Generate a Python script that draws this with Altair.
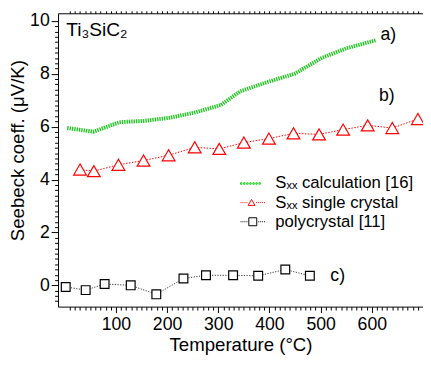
import altair as alt
import pandas as pd

# ---- data ----
calc_T = [5, 56, 107, 155, 206, 257, 305, 343, 398, 449, 503, 551, 608]
calc_S = [5.95, 5.81, 6.17, 6.22, 6.34, 6.55, 6.82, 7.34, 7.70, 8.00, 8.61, 8.97, 9.27]

single_T = [30, 57, 105, 154, 203, 254, 302, 350, 399, 447, 497, 544, 592, 640, 690]
single_S = [4.38, 4.32, 4.56, 4.72, 4.92, 5.22, 5.16, 5.40, 5.55, 5.75, 5.71, 5.89, 6.05, 5.95, 6.29]

poly_T = [2, 41, 78, 129, 179, 232, 276, 329, 378, 431, 479]
poly_S = [-0.06, -0.18, 0.05, 0.0, -0.34, 0.26, 0.38, 0.38, 0.36, 0.60, 0.36]

legend_labels = ["Sₓₓ  calculation [16]", "Sₓₓ single crystal", "polycrystal [11]"]
legend_colors = ["#22cc22", "#ff0000", "#000000"]

ann_text = ["a)", "b)", "c)"]
ann_T = [617, 614, 519]
ann_S = [9.47, 7.14, 0.35]

x_ticks = list(range(10, 700, 10))
y_ticks = [round(-0.6 + 0.2 * i, 1) for i in range(54)]

FONT = "Liberation Sans, DejaVu Sans, sans-serif"

calc_df = pd.DataFrame({"T": calc_T, "S": calc_S})
single_df = pd.DataFrame({"T": single_T, "S": single_S})
poly_df = pd.DataFrame({"T": poly_T, "S": poly_S})
ann_df = pd.DataFrame({"T": ann_T, "S": ann_S, "txt": ann_text})
title_df = pd.DataFrame({"T": [3], "S": [9.42], "txt": ["Ti₃SiC₂"]})
leg_df = pd.DataFrame({"series": legend_labels})

xscale = alt.Scale(domain=[-13, 700], nice=False, zero=False)
yscale = alt.Scale(domain=[-0.805, 10.29], nice=False, zero=False)

major_y = "abs(datum.value/2 - round(datum.value/2)) < 0.001"
y_axis = alt.Axis(
    values=y_ticks,
    labelExpr=f"{major_y} ? format(round(datum.value), 'd') : ''",
    tickSize={"condition": {"test": major_y, "value": 7}, "value": 3.5},
    title="Seebeck coeff. (μV/K)",
    titlePadding=2,
    titleY=139.5,
    grid=False,
    labelOverlap=False,
    labelFlush=False,
    labelPadding=2,
)
x_axis_bottom = alt.Axis(
    values=x_ticks,
    labelExpr="datum.value % 100 === 0 && datum.value < 700 ? datum.label : ''",
    tickSize={"condition": {"test": "datum.value % 100 === 0", "value": 6}, "value": 3.5},
    title="Temperature (°C)",
    grid=False,
    labelOverlap=False,
    labelFlush=False,
    labelPadding=3,
    titlePadding=2.5,
)
x_axis_top = alt.Axis(
    values=x_ticks,
    orient="top",
    labels=False,
    title=None,
    tickSize=2.5,
    grid=False,
)


def X(axis=None):
    return alt.X("T:Q", scale=xscale, axis=axis)


Y = alt.Y("S:Q", scale=yscale, axis=y_axis)

green = alt.Chart(calc_df).mark_line(
    color="#1ec81e", strokeWidth=4, strokeDash=[1.4, 1.0]
).encode(x=X(x_axis_bottom), y=Y)

red_line = alt.Chart(single_df).mark_line(
    color="#ff0000", strokeWidth=1, strokeDash=[1.5, 1.5]
).encode(x=X(), y=Y)
red_pts = alt.Chart(single_df).mark_point(
    shape="triangle-up", size=170, filled=True, fill="white", stroke="#ff0000",
    strokeWidth=1.2, opacity=1,
).encode(x=X(), y=Y)

blk_line = alt.Chart(poly_df).mark_line(
    color="#333333", strokeWidth=1, strokeDash=[1.2, 1.5]
).encode(x=X(x_axis_top), y=Y)
blk_pts = alt.Chart(poly_df).mark_point(
    shape="square", size=80, filled=True, fill="white", stroke="#000000",
    strokeWidth=1.2, opacity=1,
).encode(x=X(), y=Y)

ann = alt.Chart(ann_df).mark_text(
    align="left", baseline="middle", fontSize=18, font=FONT, color="black"
).encode(x=X(), y=Y, text="txt:N")

ttl = alt.Chart(title_df).mark_text(
    align="left", baseline="alphabetic", fontSize=19.5, font=FONT, color="black"
).encode(x=X(), y=Y, text="txt:N")


# ---- legend symbols (line + marker) as custom symbol paths ----
def dotted(x0, x1, step, seg, gap_c=None, gap_w=0.0):
    parts = []
    x = x0
    while x + seg <= x1 + 1e-9:
        if gap_c is None or abs(x + seg / 2 - gap_c) > gap_w:
            parts.append(f"M{x:.2f},0H{x + seg:.2f}")
        x += step
    return "".join(parts)


green_path = "".join(
    f"M{x:.2f},-0.12h0.24v0.24h-0.24Z" for x in [-2.0 + 0.5 * i for i in range(7)]
)
red_path = dotted(-2.0, 2.0, 0.32, 0.16, -0.2, 0.75) + "M-0.2,-0.52L0.36,0.45L-0.76,0.45Z"
blk_path = dotted(-2.0, 2.0, 0.32, 0.16, 0.0, 0.8) + "M-0.65,-0.65H0.65V0.65H-0.65Z"

legend = alt.Legend(
    orient="none", legendX=190, legendY=165, title=None, symbolSize=156,
    labelOffset=14.5, labelFontSize=17, labelFont=FONT, labelColor="black",
    symbolStrokeWidth=1, symbolOpacity=1, rowPadding=1.5, padding=0,
    labelLimit=300,
)
leg = alt.Chart(leg_df).mark_point(filled=False, opacity=0).encode(
    color=alt.Color("series:N", scale=alt.Scale(domain=legend_labels, range=legend_colors), legend=legend),
    shape=alt.Shape("series:N", scale=alt.Scale(domain=legend_labels, range=[green_path, red_path, blk_path]), legend=legend),
)

chart = alt.layer(
    green, red_line, red_pts, blk_line, blk_pts, ann, ttl, leg
).resolve_axis(x="independent").properties(
    width=372, height=299,
    autosize=alt.AutoSizeParams(type="none"),
    padding={"left": 51, "top": 2, "right": 0, "bottom": 50},
).configure_view(stroke=None).configure_axis(
    domainColor="black", tickColor="black", labelColor="black", titleColor="black",
    labelFont=FONT, titleFont=FONT, labelFontSize=18, titleFontSize=19,
    titleFontWeight="normal", domainWidth=1, tickWidth=1,
)

chart.save("out.html", embed_options={"renderer": "svg", "actions": False})
